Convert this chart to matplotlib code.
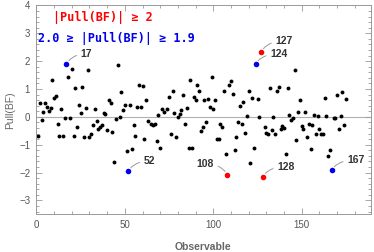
import numpy as np
import matplotlib
matplotlib.use("Agg")
import matplotlib.pyplot as plt
from matplotlib.ticker import MultipleLocator

# observable index and pull at best fit
obs = [1, 2, 3, 4, 5, 6, 7, 8, 9, 10, 11, 12, 13, 14, 15, 16, 17, 18, 19, 20,
       21, 22, 23, 24, 25, 26, 27, 28, 29, 30, 31, 32, 33, 34, 35, 36, 37, 38, 39, 40,
       41, 42, 43, 44, 45, 46, 47, 48, 49, 50, 51, 52, 53, 54, 55, 56, 57, 58, 59, 60,
       61, 62, 63, 65, 66, 67, 68, 69, 70, 71, 72, 74, 75, 76, 77, 78, 79, 80, 81, 82,
       83, 84, 85, 86, 87, 88, 89, 90, 91, 92, 93, 94, 95, 96, 97, 98, 99, 100, 101, 102,
       103, 104, 105, 106, 107, 108, 109, 110, 111, 112, 113, 114, 115, 116, 117, 118, 119, 120, 121, 122,
       123, 124, 125, 126, 127, 128, 129, 130, 131, 132, 133, 134, 135, 136, 137, 138, 139, 140, 141, 142,
       143, 144, 145, 146, 147, 148, 149, 150, 151, 152, 153, 154, 155, 156, 157, 158, 159, 160, 161, 162,
       163, 164, 165, 166, 167, 168, 169, 170, 171, 172, 173, 174, 175]
pull = [-0.67, 0.48, -0.12, 0.18, 0.50, 0.36, 0.22, 0.32, 1.34, 0.67, 0.74, -0.24, -0.67, 0.27, -0.67, -0.04, 1.90, 1.43, -0.04, 1.73,
        -0.69, 1.03, -0.38, 0.41, 0.14, 1.06, -0.74, 0.32, 1.70, -0.72, -0.63, -0.30, 0.27, -0.15, -0.42, -0.36, -0.30, 0.14, 0.11, -0.49,
        0.60, 0.48, -0.54, -1.61, -0.07, 1.85, 0.00, 0.90, 0.23, 0.41, -1.24, -1.95, 0.41, -1.17, -0.31, -0.67, 0.34, 1.16, 0.34, 1.11,
        -0.79, 0.62, -0.15, -0.25, -0.30, -0.27, -0.86, 0.06, -1.11, 0.27, 0.16, 0.30, 0.73, -0.61, 0.93, 0.14, -0.74, 0.00, 0.10, 0.23,
        0.78, -0.27, 0.32, -1.11, 1.34, -1.11, 0.73, 0.62, 1.15, 0.92, -0.50, -0.38, 0.61, -0.19, 0.63, 0.34, 1.43, 0.29, 0.59, -0.79,
        -0.79, -0.27, -0.38, 0.93, -1.35, -2.08, 1.15, 1.27, 0.81, -1.19, -0.72, -0.19, 0.39, -0.24, 0.52, -0.57, 0.03, 0.93, -1.67, 0.66,
        -1.12, 1.90, 0.63, -0.01, 2.33, -2.15, -0.37, -0.57, -0.63, 1.03, -0.47, -0.01, -0.61, 0.92, 1.08, -0.44, -0.33, -0.39, -1.34, 1.03,
        0.06, -0.12, -0.03, 1.70, -0.82, 0.18, 0.59, -0.33, -0.44, 0.18, -0.72, -0.24, -1.16, -0.31, 0.06, -0.61, 0.03, -0.45, -0.61, -0.61,
        0.66, 0.03, -1.41, -1.19, -1.91, -0.03, -0.03, 0.78, -0.45, 0.03, 0.90, -0.31, 0.63]

# where the callout numbers go, offset in pixels from the point
label_offsets = {17: (20, 10), 52: (21, 10), 108: (-22, 11), 124: (23, 10),
                 127: (23, 11), 128: (23, 10), 167: (24, 10)}

x = np.array(obs)
y = np.array(pull)
red = np.abs(y) >= 2
blue = (np.abs(y) >= 1.9) & ~red
black = ~(red | blue)

fig = plt.figure(figsize=(3.74, 2.52), dpi=100)
ax = fig.add_axes([0.0955, 0.1496, 0.8957, 0.8286])

ax.axhline(0, color="#b0b0b0", lw=0.8, zorder=0)
ax.plot(x[black], y[black], "o", color="black", ms=2.8, mec="none")
ax.plot(x[blue], y[blue], "o", color="#0000ee", ms=4.0, mec="none")
ax.plot(x[red], y[red], "o", color="#ff0000", ms=4.0, mec="none")

for i, (dx, dy) in label_offsets.items():
    p = pull[obs.index(i)]
    angB = 60 if dx > 0 else 120
    ax.annotate(str(i), xy=(i, p), xytext=(dx, dy), textcoords="offset pixels",
                ha="center", va="center", fontsize=7.5, fontweight="bold",
                family="Liberation Sans", color="#333333",
                arrowprops=dict(arrowstyle="-", color="#999999", lw=0.7,
                                shrinkA=1, shrinkB=3,
                                connectionstyle=f"angle3,angleA=0,angleB={angB}"))

ax.text(0.052, 0.943, "|Pull(BF)| ≥ 2", transform=ax.transAxes, color="#ff0000",
        family="DejaVu Sans Mono", fontweight="bold", fontsize=8.5, va="center", ha="left")
ax.text(0.007, 0.844, "2.0 ≥ |Pull(BF)| ≥ 1.9", transform=ax.transAxes, color="#0000ee",
        family="DejaVu Sans Mono", fontweight="bold", fontsize=8.5, va="center", ha="left")

ax.set_xlim(-0.4, 189)
ax.set_ylim(-3.5, 4.0)
ax.xaxis.set_major_locator(MultipleLocator(50))
ax.xaxis.set_minor_locator(MultipleLocator(10))
ax.yaxis.set_major_locator(MultipleLocator(1))
ax.yaxis.set_minor_locator(MultipleLocator(0.2))
ax.tick_params(which="both", direction="in", top=True, right=True, color="#999999",
               labelcolor="#555555", labelsize=7, width=0.6)
ax.tick_params(which="major", length=4)
ax.tick_params(which="minor", length=2)
ax.tick_params(axis="y", pad=4)
ax.tick_params(axis="x", pad=4)
for lab in ax.get_xticklabels() + ax.get_yticklabels():
    lab.set_family("Liberation Sans")
for s in ax.spines.values():
    s.set_color("#999999")
    s.set_linewidth(0.7)

ax.set_xlabel("Observable", family="Liberation Sans", fontweight="bold", fontsize=7.5,
              color="#666666", labelpad=9)
ax.set_ylabel("Pull(BF)", family="Liberation Sans", fontsize=7.5, color="#666666", labelpad=3)

fig.savefig("out.png", dpi=100)
